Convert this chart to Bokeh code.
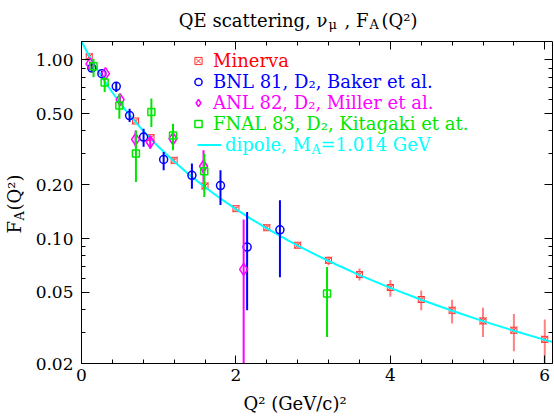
from math import pi
from bokeh.plotting import figure
from bokeh.layouts import column, row
from bokeh.models import (Range1d, FixedTicker, LinearAxis, LogAxis, Label, Legend, Title,
                          LegendItem, CustomJSTickFormatter, ColumnDataSource)
from bokeh.embed import file_html
from bokeh.resources import INLINE

# ---------------- data ----------------
minerva_q2 = [0.1, 0.7, 0.9, 1.2, 1.6, 2.0, 2.4, 2.8, 3.2, 3.6, 4.0, 4.4, 4.8, 5.2, 5.6, 6.0]
minerva_fa = [1.04, 0.455, 0.367, 0.274, 0.197, 0.147, 0.115, 0.0918, 0.0756, 0.0629, 0.0532,
              0.0456, 0.0397, 0.0346, 0.0307, 0.0273]
minerva_lo = [1.01, 0.445, 0.358, 0.266, 0.191, 0.143, 0.111, 0.0885, 0.0709, 0.0583, 0.0472,
              0.0397, 0.0335, 0.0281, 0.0234, 0.019]
minerva_hi = [1.07, 0.465, 0.376, 0.282, 0.203, 0.151, 0.119, 0.0951, 0.0791, 0.0680, 0.0587,
              0.0513, 0.0455, 0.0410, 0.0379, 0.0352]

bnl_q2 = [0.134, 0.264, 0.45, 0.623, 0.804, 1.064, 1.43, 1.80, 2.145, 2.57]
bnl_fa = [0.90, 0.837, 0.711, 0.488, 0.370, 0.277, 0.226, 0.198, 0.0897, 0.112]
bnl_lo = [0.86, 0.81, 0.661, 0.449, 0.326, 0.241, 0.190, 0.154, 0.0397, 0.0608]
bnl_hi = [0.95, 0.865, 0.751, 0.533, 0.412, 0.305, 0.263, 0.241, 0.141, 0.164]

anl_q2 = [0.11, 0.31, 0.50, 0.70, 0.89, 1.185, 1.58, 2.10]
anl_fa = [0.95, 0.837, 0.599, 0.359, 0.347, 0.362, 0.254, 0.0673]
anl_lo = [0.92, 0.81, 0.57, 0.326, 0.318, 0.33, 0.207, 0.005]
anl_hi = [0.98, 0.86, 0.63, 0.403, 0.378, 0.40, 0.312, 0.128]

fnal_q2 = [0.156, 0.30, 0.49, 0.705, 0.905, 1.185, 1.59, 3.18]
fnal_fa = [0.92, 0.746, 0.556, 0.299, 0.511, 0.377, 0.238, 0.0493]
fnal_lo = [0.80, 0.66, 0.469, 0.207, 0.421, 0.312, 0.171, 0.0281]
fnal_hi = [1.016, 0.80, 0.647, 0.403, 0.607, 0.439, 0.299, 0.0693]

dipole_q2 = [0.0, 0.1, 0.2, 0.3, 0.4, 0.5, 0.6, 0.7, 0.8, 0.9, 1.0, 1.2, 1.4, 1.6, 1.8, 2.0,
             2.2, 2.4, 2.6, 2.8, 3.0, 3.2, 3.6, 4.0, 4.4, 4.8, 5.2, 5.6, 6.0, 6.1]
dipole_fa = [1.267, 1.0523, 0.8880, 0.7593, 0.6567, 0.5736, 0.5053, 0.4485, 0.4008, 0.3603,
             0.3256, 0.2698, 0.2272, 0.1939, 0.1675, 0.1461, 0.1285, 0.1140, 0.1018, 0.0914,
             0.08255, 0.0749, 0.0625, 0.0530, 0.04546, 0.03943, 0.03453, 0.03049, 0.02712, 0.02636]

x_major_ticks = [0, 2, 4, 6]
x_minor_ticks = [0.4, 0.8, 1.2, 1.6, 2.4, 2.8, 3.2, 3.6, 4.4, 4.8, 5.2, 5.6]
y_major_ticks = [0.02, 0.05, 0.1, 0.2, 0.5, 1.0]
y_minor_ticks = [0.03, 0.04, 0.06, 0.07, 0.08, 0.09, 0.3, 0.4, 0.6, 0.7, 0.8, 0.9]

title_runs = ["QE scattering, \u03bd", "\u03bc", ", F", "A", "(Q\u00b2)"]
xlabel_text = "Q\u00b2 (GeV/c)\u00b2"
ylabel_runs = ["F", "A", "(Q\u00b2)"]
legend_texts = ["Minerva", "BNL 81, D\u2082, Baker et al.", "ANL 82, D\u2082, Miller et al.",
                "FNAL 83, D\u2082, Kitagaki et at.", "dipole, M"]
dipole_tail = ["A", "=1.014 GeV"]

# ---------------- style ----------------
FONT = "DejaVu Serif"
FS = "18px"       # title, axis titles, legend
TICK_FS = "17px"
SUB = "13px"
RED, RED_BAR = "#ff3333", "#ff8080"
BLUE = "#0000ff"
MAG = "#ff00ff"
GREEN = "#00e600"
CYAN = "#00ffff"

W, H = 554, 417          # whole layout
TOP_H = 34               # title strip
YL_W = 28                # y-label strip
BOT_Y = 388              # page y where x-label strip starts
FL, FT, FB = 81, 41, 363  # main frame left / top / bottom in page pixels


def blank_fig(w, h, top=0, bottom=0):
    f = figure(width=w, height=h, x_range=Range1d(0, w), y_range=Range1d(0, h),
               output_backend="svg", toolbar_location=None, title=None, min_border=0,
               min_border_top=top, min_border_bottom=bottom,
               x_axis_location=None, y_axis_location=None)
    f.grid.visible = False
    f.outline_line_color = None
    f.background_fill_color = "white"
    f.border_fill_color = "white"
    return f


p = figure(width=W - YL_W, height=BOT_Y - TOP_H, x_range=Range1d(0, 6.1),
           y_range=Range1d(0.02, 1.267), y_axis_type="log", output_backend="svg",
           toolbar_location=None, title=None, min_border_left=FL - YL_W, min_border_right=2,
           min_border_top=FT - TOP_H, min_border_bottom=BOT_Y - FB)
p.grid.visible = False
p.outline_line_color = None
p.background_fill_color = "white"
p.border_fill_color = "white"

xt = FixedTicker(ticks=x_major_ticks, minor_ticks=x_minor_ticks)
yt = FixedTicker(ticks=y_major_ticks, minor_ticks=y_minor_ticks)


def style_axis(ax, labels=True, standoff=8):
    ax.axis_line_color = "black"
    ax.axis_line_width = 1
    ax.major_tick_in = 8
    ax.major_tick_out = 0
    ax.minor_tick_in = 4
    ax.minor_tick_out = 0
    ax.major_tick_line_color = "black"
    ax.minor_tick_line_color = "black"
    ax.major_label_text_font = FONT
    ax.major_label_text_font_size = TICK_FS
    ax.major_label_text_color = "black"
    ax.major_label_standoff = standoff
    if not labels:
        ax.formatter = CustomJSTickFormatter(code="return ''")
        ax.major_label_text_font_size = "1px"
        ax.major_label_standoff = 0


p.xaxis[0].ticker = xt
p.xaxis[0].formatter = CustomJSTickFormatter(code="return tick.toFixed(0)")
style_axis(p.xaxis[0], standoff=5)
p.yaxis[0].ticker = yt
p.yaxis[0].formatter = CustomJSTickFormatter(code="return tick.toFixed(2)")
style_axis(p.yaxis[0])

top = LinearAxis(ticker=xt)
style_axis(top, labels=False)
p.add_layout(top, "above")
right = LogAxis(ticker=yt)
style_axis(right, labels=False)
p.add_layout(right, "right")

# ---------------- glyphs ----------------
src_m = ColumnDataSource(dict(q=minerva_q2, f=minerva_fa, lo=minerva_lo, hi=minerva_hi))
src_b = ColumnDataSource(dict(q=bnl_q2, f=bnl_fa, lo=bnl_lo, hi=bnl_hi))
src_a = ColumnDataSource(dict(q=anl_q2, f=anl_fa, lo=anl_lo, hi=anl_hi))
src_f = ColumnDataSource(dict(q=fnal_q2, f=fnal_fa, lo=fnal_lo, hi=fnal_hi))

p.segment(x0="q", y0="lo", x1="q", y1="hi", source=src_m, line_color=RED_BAR, line_width=2)
m_sq = p.scatter("q", "f", source=src_m, marker="square", size=6, fill_color=None,
                 line_color=RED, line_width=1)
m_x = p.scatter("q", "f", source=src_m, marker="x", size=10, line_color=RED, line_width=1)

dip = p.line(dipole_q2, dipole_fa, line_color=CYAN, line_width=2)

p.segment(x0="q", y0="lo", x1="q", y1="hi", source=src_b, line_color=BLUE, line_width=2)
b_r = p.scatter("q", "f", source=src_b, marker="circle", size=8, fill_color=None,
                line_color=BLUE, line_width=1.5)
p.segment(x0="q", y0="lo", x1="q", y1="hi", source=src_a, line_color=MAG, line_width=2)
a_r = p.scatter("q", "f", source=src_a, marker="diamond", size=12, fill_color=None,
                line_color=MAG, line_width=1.5)
p.segment(x0="q", y0="lo", x1="q", y1="hi", source=src_f, line_color=GREEN, line_width=2)
f_r = p.scatter("q", "f", source=src_f, marker="square", size=7, fill_color=None,
                line_color=GREEN, line_width=1.5)


# ---------------- texts ----------------
def lab(fig, left, bottom, px, py, text, size=FS, color="black", align="left",
        baseline="alphabetic", angle=0.0):
    fig.add_layout(Label(x=px - left, y=bottom - py, x_units="screen", y_units="screen",
                         text=text, text_font=FONT, text_font_size=size, text_color=color,
                         text_align=align, text_baseline=baseline, angle=angle))


tfig = blank_fig(W, TOP_H)
lab(tfig, 0, TOP_H, 327, 20, title_runs[0], align="right")
lab(tfig, 0, TOP_H, 328, 24, title_runs[1], size=SUB)
lab(tfig, 0, TOP_H, 368, 20, title_runs[2], align="right")
lab(tfig, 0, TOP_H, 369, 24, title_runs[3], size=SUB)
lab(tfig, 0, TOP_H, 381, 20, title_runs[4])

# the y-label strip gets the same top/bottom borders as the main plot,
# so its frame spans the same page rows (FT..FB)
yfig = blank_fig(YL_W, BOT_Y - TOP_H, top=FT - TOP_H, bottom=BOT_Y - FB)
lab(yfig, 0, FB, 3, 233, ylabel_runs[0], baseline="top", angle=pi / 2)
lab(yfig, 0, FB, 11, 220, ylabel_runs[1], size=SUB, baseline="top", angle=pi / 2)
lab(yfig, 0, FB, 3, 210, ylabel_runs[2], baseline="top", angle=pi / 2)

# x-axis title: a side-panel Title (not clipped by a frame)
xfig = blank_fig(W, H - BOT_Y, top=25)
xfig.add_layout(Title(text=xlabel_text, align="left", offset=243, standoff=0,
                      vertical_align="bottom", text_font=FONT, text_font_size=FS,
                      text_font_style="normal", text_color="black"), "above")


def add_leg(renderers, text, color, px_left, py_center, gw, standoff):
    leg = Legend(items=[LegendItem(label=text, renderers=renderers)],
                 location=(px_left - FL, FB - (py_center + 10.5)),
                 orientation="vertical", padding=0, margin=0, spacing=0,
                 glyph_width=gw, glyph_height=21, label_height=21, label_standoff=standoff,
                 label_text_font=FONT, label_text_font_size=FS, label_text_color=color,
                 border_line_color=None, background_fill_alpha=0)
    p.add_layout(leg)


add_leg([m_sq, m_x], legend_texts[0], "#ff0000", 189, 60, 18, 6)
add_leg([b_r], legend_texts[1], BLUE, 189, 81, 18, 6)
add_leg([a_r], legend_texts[2], MAG, 189, 102, 18, 6)
add_leg([f_r], legend_texts[3], GREEN, 189, 123, 18, 6)
add_leg([dip], legend_texts[4], CYAN, 197, 144, 24, 4)
lab(p, FL, FB, 311, 148.5, dipole_tail[0], size=SUB, color=CYAN, baseline="middle")
lab(p, FL, FB, 320, 144, dipole_tail[1], color=CYAN, baseline="middle")

layout = column(tfig, row(yfig, p), xfig)
open("out.html", "w").write(file_html(layout, INLINE))
